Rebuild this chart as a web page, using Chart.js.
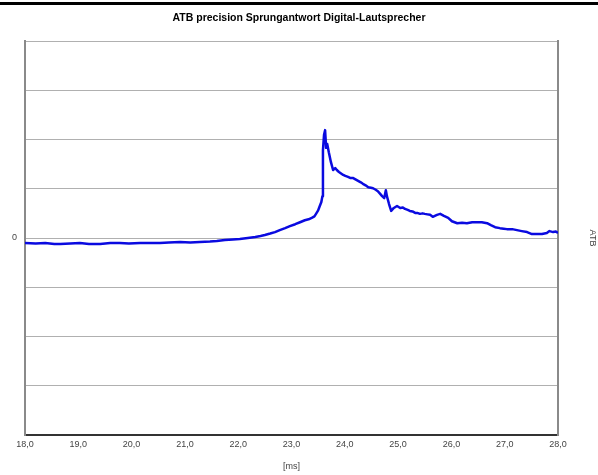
<!DOCTYPE html>
<html>
<head>
<meta charset="utf-8">
<script src="https://cdn.jsdelivr.net/npm/chart.js@4"></script>
<style>
  html, body { margin: 0; padding: 0; background: #fff; }
  #wrap { position: relative; width: 598px; height: 475px; }
  #bar { position: absolute; left: 0; top: 2px; width: 598px; height: 3px; background: #000; }
</style>
</head>
<body>
<div id="wrap">
  <canvas id="chart" width="598" height="475"></canvas>
  <div id="bar"></div>
</div>
<script>
// Sprungantwort, Zeit in ms
const timeMs = [
  18.00, 18.20, 18.38, 18.55, 18.66, 18.85, 19.03, 19.20, 19.41, 19.60,
  19.78, 19.95, 20.16, 20.35, 20.53, 20.70, 20.91, 21.10, 21.28, 21.47,
  21.60, 21.75, 21.90, 22.03, 22.18, 22.32, 22.42, 22.50, 22.60, 22.69,
  22.78, 22.88, 22.97, 23.07, 23.16, 23.25, 23.32, 23.38, 23.43, 23.46,
  23.50, 23.52, 23.56, 23.58, 23.59, 23.61, 23.63, 23.65, 23.67, 23.70,
  23.74, 23.78, 23.82, 23.85, 23.89, 23.93, 23.97, 24.01, 24.06, 24.10,
  24.15, 24.20, 24.25, 24.30, 24.34, 24.39, 24.44, 24.49, 24.53, 24.58,
  24.62, 24.66, 24.70, 24.74, 24.77, 24.79, 24.83, 24.87, 24.92, 24.98,
  25.04, 25.09, 25.13, 25.18, 25.22, 25.27, 25.32, 25.36, 25.41, 25.46,
  25.50, 25.55, 25.60, 25.65, 25.73, 25.79, 25.86, 25.94, 26.01, 26.06,
  26.11, 26.20, 26.29, 26.39, 26.48, 26.57, 26.67, 26.74, 26.82, 26.91,
  26.98, 27.04, 27.14, 27.23, 27.32, 27.42, 27.51, 27.60, 27.70, 27.79,
  27.84, 27.91, 27.96, 28.00
];
const atbValues = [
  -0.10, -0.11, -0.10, -0.12, -0.12, -0.11, -0.10, -0.12, -0.12, -0.10,
  -0.10, -0.11, -0.10, -0.10, -0.10, -0.09, -0.08, -0.09, -0.08, -0.07,
  -0.06, -0.04, -0.03, -0.02, 0.00, 0.02, 0.04, 0.06, 0.09, 0.12,
  0.16, 0.20, 0.24, 0.28, 0.32, 0.36, 0.38, 0.41, 0.44, 0.49,
  0.56, 0.62, 0.73, 0.85, 1.78, 2.09, 2.19, 1.83, 1.91, 1.74,
  1.54, 1.38, 1.42, 1.38, 1.34, 1.31, 1.28, 1.26, 1.24, 1.22,
  1.22, 1.19, 1.16, 1.13, 1.10, 1.07, 1.03, 1.02, 1.01, 0.98,
  0.95, 0.90, 0.85, 0.81, 0.97, 0.85, 0.69, 0.55, 0.61, 0.65,
  0.61, 0.62, 0.59, 0.57, 0.55, 0.54, 0.51, 0.51, 0.49, 0.50,
  0.49, 0.48, 0.47, 0.43, 0.47, 0.49, 0.45, 0.41, 0.34, 0.32,
  0.30, 0.31, 0.30, 0.32, 0.32, 0.32, 0.30, 0.26, 0.22, 0.20,
  0.19, 0.18, 0.18, 0.16, 0.14, 0.12, 0.08, 0.08, 0.08, 0.10,
  0.14, 0.12, 0.13, 0.10
];
const xMin = 18, xMax = 28;
const yMin = -4, yMax = 4;

const points = timeMs.map((t, i) => ({ x: t, y: atbValues[i] }));
const fontFam = '"Liberation Sans", Arial, sans-serif';

new Chart(document.getElementById('chart'), {
  type: 'line',
  data: {
    datasets: [{
      data: points,
      borderColor: '#0a0ae0',
      borderWidth: 2.5,
      borderJoinStyle: 'round',
      pointRadius: 0,
      tension: 0,
      yAxisID: 'y'
    }]
  },
  options: {
    responsive: false,
    animation: false,
    layout: { padding: 0 },
    plugins: {
      legend: { display: false },
      tooltip: { enabled: false },
      title: {
        display: true,
        text: 'ATB precision Sprungantwort Digital-Lautsprecher',
        color: '#000',
        font: { family: fontFam, size: 10.5, weight: 'bold', lineHeight: 1.2 },
        padding: { top: 12, bottom: 16.4 }
      }
    },
    scales: {
      x: {
        type: 'linear',
        min: xMin,
        max: xMax,
        grid: { display: false, drawTicks: false },
        border: { color: '#333', width: 2 },
        ticks: {
          stepSize: 1,
          padding: 4,
          color: '#444',
          font: { family: fontFam, size: 9 },
          callback: v => v.toFixed(1).replace('.', ',')
        },
        title: {
          display: true,
          text: '[ms]',
          color: '#444',
          font: { family: fontFam, size: 9 },
          padding: { top: 5, bottom: 3 }
        },
        afterFit: s => { s.height = 40; }
      },
      y: {
        position: 'left',
        min: yMin,
        max: yMax,
        grid: { color: '#b0b0b0', lineWidth: 1, drawTicks: false },
        border: { color: '#8a8a8a', width: 2 },
        ticks: {
          stepSize: 1,
          padding: 8,
          color: '#444',
          font: { family: fontFam, size: 9 },
          callback: v => (v === 0 ? '0' : '')
        },
        afterFit: s => { s.width = 25; }
      },
      y2: {
        position: 'right',
        min: yMin,
        max: yMax,
        grid: { display: false, drawTicks: false },
        border: { color: '#8a8a8a', width: 2 },
        ticks: { display: false },
        title: {
          display: true,
          text: 'ATB',
          color: '#444',
          font: { family: fontFam, size: 9 },
          padding: 0
        },
        afterFit: s => { s.width = 40; }
      }
    }
  }
});
</script>
</body>
</html>
